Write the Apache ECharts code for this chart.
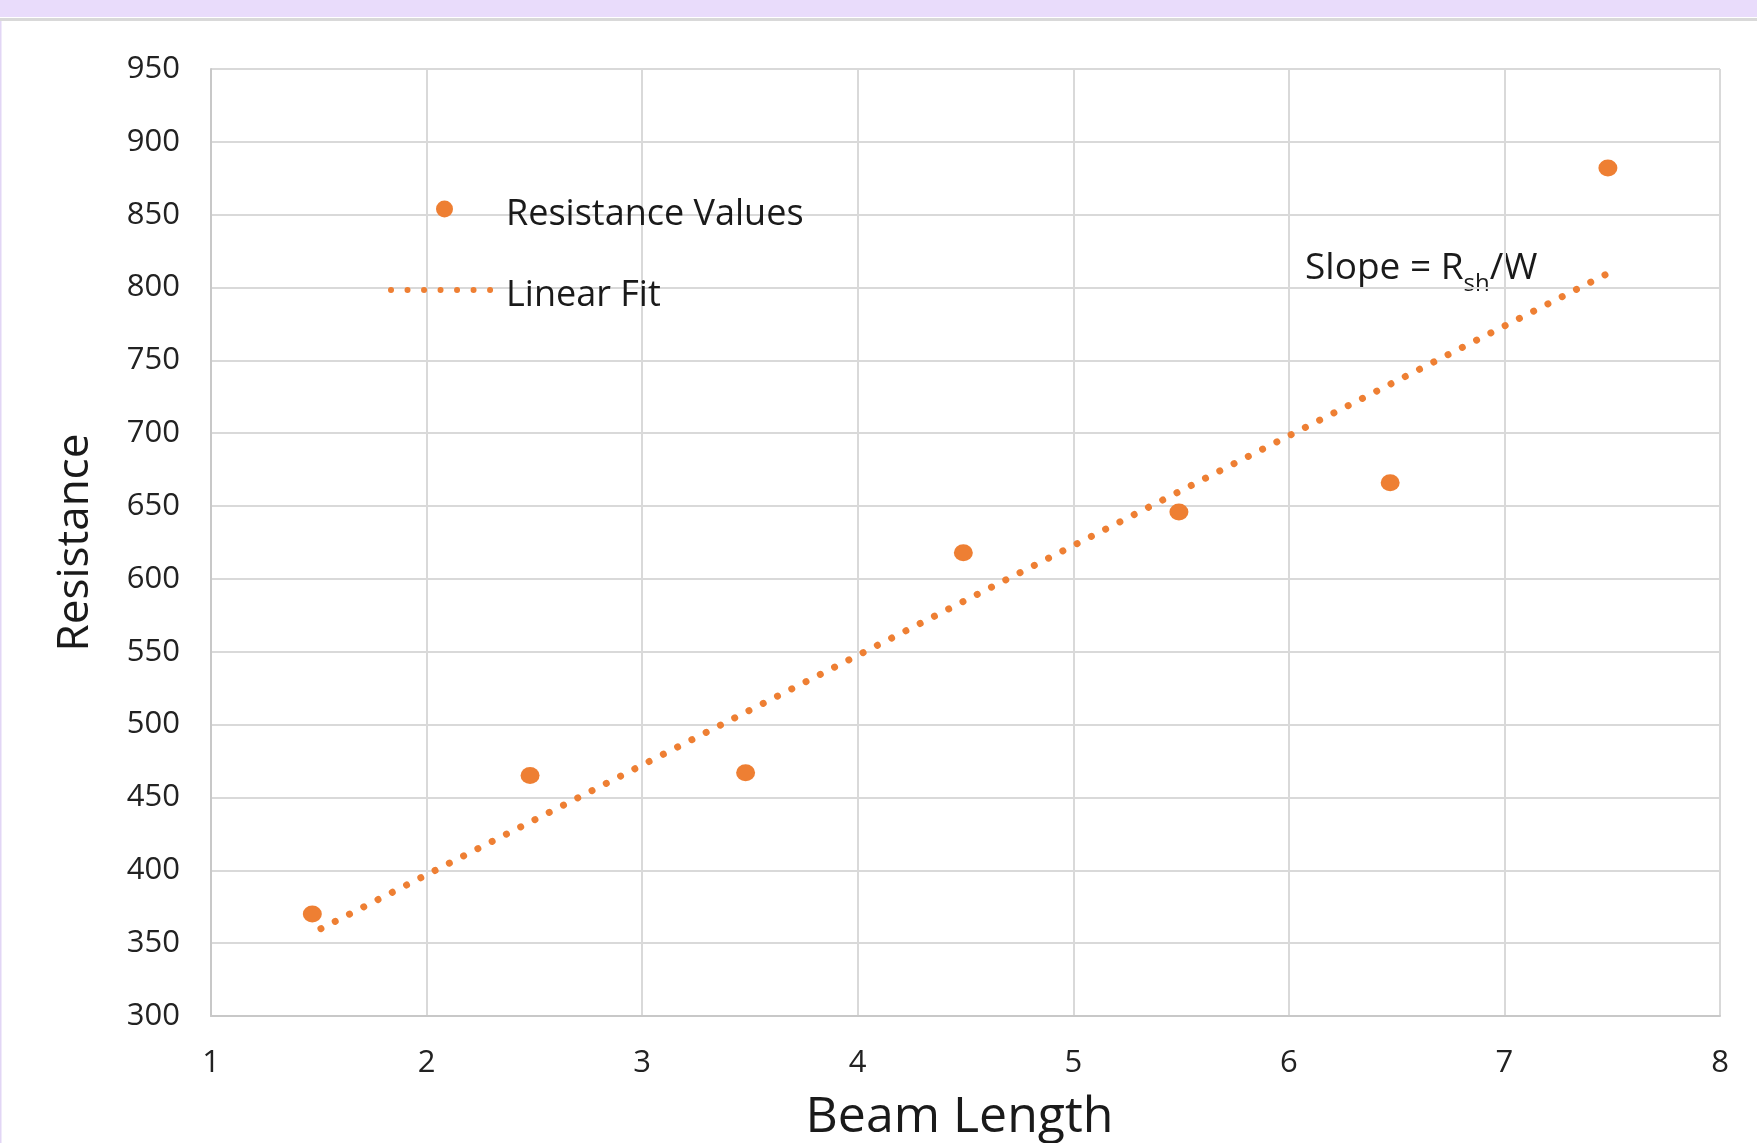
<!DOCTYPE html>
<html>
<head>
<meta charset="utf-8">
<script src="https://cdn.jsdelivr.net/npm/echarts@6/dist/echarts.min.js"></script>
<style>
html,body{margin:0;padding:0;background:#fff;}
#chart{width:1757px;height:1143px;}
</style>
</head>
<body>
<div id="chart"></div>
<script>
// Data
const beamLength = [1.47, 2.48, 3.48, 4.49, 5.49, 6.47, 7.48];
const resistance = [370, 465, 467, 618, 646, 666, 882];
const fitX = [1.51, 7.47];
const fitY = [360, 809];
const xTicks = [1, 2, 3, 4, 5, 6, 7, 8];
const yTicks = [300, 350, 400, 450, 500, 550, 600, 650, 700, 750, 800, 850, 900, 950];

const ORANGE = '#ee7f33';
const FONT = 'Open Sans';

const chart = echarts.init(document.getElementById('chart'));
const option = {
  backgroundColor: '#ffffff',
  animation: false,
  textStyle: { fontFamily: FONT },
  grid: { left: 211, right: 37, top: 69, bottom: 127, containLabel: false, outerBoundsMode: 'none' },
  graphic: [
    { type: 'rect', left: 0, top: 0, shape: { width: 1757, height: 17 }, style: { fill: '#e9dcfb' }, silent: true },
    { type: 'rect', left: 0, top: 18, shape: { width: 1757, height: 3 }, style: { fill: '#d9d9d9' }, silent: true },
    { type: 'rect', left: 0, top: 21, shape: { width: 1.5, height: 1122 }, style: { fill: '#e2d6f5' }, silent: true },
    {
      type: 'text', left: 1305, top: 250, silent: true,
      style: {
        text: '{m|Slope = R}{s|sh}{m|/W}',
        fill: '#1a1a1a',
        rich: {
          m: { fontFamily: FONT, fontSize: 37, lineHeight: 56, fill: '#1a1a1a', verticalAlign: 'middle' },
          s: { fontFamily: FONT, fontSize: 24, lineHeight: 24, fill: '#1a1a1a', verticalAlign: 'bottom' }
        }
      }
    }
  ],
  legend: {
    orient: 'vertical',
    left: 388,
    top: 185,
    padding: 0,
    itemWidth: 107,
    itemHeight: 17,
    itemGap: 33,
    formatter: '{t|{name}}',
    textStyle: {
      fontFamily: FONT, fontSize: 36, color: '#1a1a1a',
      rich: { t: { fontFamily: FONT, fontSize: 36, color: '#1a1a1a', lineHeight: 40, padding: [12, 0, 0, 3] } }
    },
    lineStyle: { width: 6, type: [0.01, 16.5], cap: 'round' },
    data: [
      { name: 'Resistance Values', itemStyle: { opacity: 1 } },
      { name: 'Linear Fit', itemStyle: { opacity: 0, borderWidth: 0 } }
    ]
  },
  xAxis: {
    type: 'value',
    min: 1, max: 8, interval: 1,
    name: 'Beam Length',
    nameLocation: 'middle',
    nameGap: 77,
    nameTextStyle: { fontFamily: FONT, fontSize: 50, color: '#1a1a1a', padding: [0, 12, 0, 0] },
    axisLine: { show: true, lineStyle: { color: '#c8c8c8', width: 2 } },
    axisTick: { show: false },
    axisLabel: { fontFamily: FONT, fontSize: 31, color: '#222', margin: 32 },
    splitLine: { show: true, lineStyle: { color: '#d9d9d9', width: 2 } }
  },
  yAxis: {
    type: 'value',
    min: 300, max: 950, interval: 50,
    name: 'Resistance',
    nameLocation: 'middle',
    nameRotate: 90,
    nameGap: 114,
    nameTextStyle: { fontFamily: FONT, fontSize: 44, color: '#1a1a1a' },
    axisLine: { show: true, lineStyle: { color: '#c8c8c8', width: 2 } },
    axisTick: { show: false },
    axisLabel: { fontFamily: FONT, fontSize: 31, color: '#222', margin: 31, padding: [12, 0, 0, 0] },
    splitLine: { show: true, lineStyle: { color: '#d9d9d9', width: 2 } }
  },
  series: [
    {
      name: 'Resistance Values',
      type: 'scatter',
      symbol: 'circle',
      symbolSize: [19, 17],
      itemStyle: { color: ORANGE, opacity: 1 },
      data: beamLength.map((x, i) => [x, resistance[i]]),
      z: 3
    },
    {
      name: 'Linear Fit',
      type: 'line',
      showSymbol: false,
      symbol: 'none',
      itemStyle: { color: ORANGE },
      lineStyle: { color: ORANGE, width: 7, type: [0.01, 16], cap: 'round' },
      data: fitX.map((x, i) => [x, fitY[i]]),
      z: 2
    }
  ]
};
chart.setOption(option);
</script>
</body>
</html>
